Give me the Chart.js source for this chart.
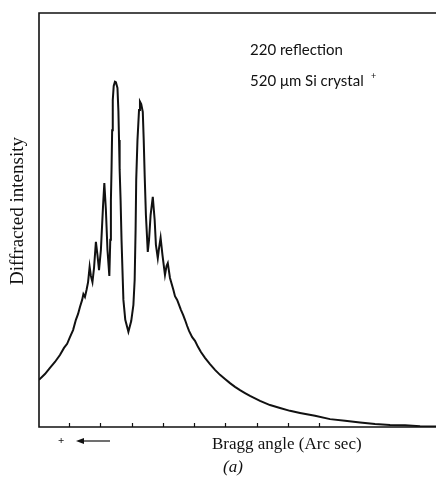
<!DOCTYPE html>
<html>
<head>
<meta charset="utf-8">
<script src="https://cdn.jsdelivr.net/npm/chart.js@4"></script>
<style>
html, body { margin: 0; padding: 0; background: #fff; }
#wrap { width: 436px; height: 486px; }
</style>
</head>
<body>
<div id="wrap"><canvas id="graph1" width="436" height="486"></canvas></div>
<script>
// Bragg angle, in tick units
var angle = [-0.96, -0.77, -0.61, -0.45, -0.29, -0.16, -0.06, 0.03, 0.13, 0.22, 0.29, 0.35, 0.42, 0.46, 0.51, 0.56, 0.61, 0.66, 0.70, 0.75,
  0.80, 0.86, 0.91, 0.96, 1.02, 1.09, 1.13, 1.18, 1.23, 1.29, 1.32, 1.34, 1.36, 1.38, 1.40, 1.43, 1.47, 1.50, 1.55, 1.58,
  1.60, 1.62, 1.65, 1.68, 1.71, 1.74, 1.80, 1.90, 1.99, 2.06, 2.10, 2.13, 2.15, 2.19, 2.24, 2.27, 2.31, 2.36, 2.39, 2.42,
  2.46, 2.52, 2.56, 2.61, 2.68, 2.74, 2.78, 2.84, 2.88, 2.93, 2.99, 3.07, 3.12, 3.16, 3.23, 3.34, 3.39, 3.46, 3.52, 3.58,
  3.65, 3.71, 3.78, 3.84, 3.94, 4.03, 4.13, 4.22, 4.35, 4.51, 4.67, 4.83, 4.99, 5.15, 5.31, 5.47, 5.63, 5.79, 6.11, 6.43,
  6.75, 7.07, 7.39, 7.87, 8.35, 8.83, 9.31, 9.79, 10.27, 10.75, 11.23, 11.74];
// diffracted intensity, 0-100
var intensity = [11.4, 12.8, 14.3, 15.7, 17.4, 19.1, 20.1, 21.7, 23.4, 25.9, 27.3, 29.0, 30.7, 32.1, 31.4, 33.1, 35.0, 38.7, 36.5, 35.0,
  38.4, 44.7, 41.6, 37.9, 42.8, 53.6, 58.9, 52.4, 42.8, 36.5, 45.2, 54.8, 62.1, 71.7, 79.0, 82.4, 83.4, 83.3, 81.9, 76.3,
  69.3, 62.1, 54.8, 45.2, 37.9, 30.7, 25.9, 23.0, 25.6, 29.5, 35.5, 47.6, 59.7, 69.3, 76.6, 78.6, 78.0, 76.1, 69.3, 60.9,
  51.2, 42.3, 45.2, 51.2, 55.6, 50.0, 44.0, 40.8, 43.2, 45.7, 41.5, 36.7, 38.9, 39.6, 36.0, 33.1, 31.6, 30.7, 29.5, 28.3,
  27.1, 25.9, 24.4, 23.2, 21.7, 20.8, 19.3, 18.1, 16.7, 15.2, 13.8, 12.6, 11.6, 10.6, 9.7, 8.9, 8.2, 7.5, 6.3, 5.3,
  4.6, 3.9, 3.4, 2.7, 1.9, 1.5, 1.1, 0.7, 0.5, 0.4, 0.2, 0.1];
var tickValues = [0, 1, 2, 3, 4, 5, 6, 7, 8];

var points = angle.map(function (a, i) { return { x: a, y: intensity[i] }; });

// frame, inward ticks and the texts
var decor = {
  id: 'decor',
  afterDraw: function (chart) {
    var c = chart.ctx, a = chart.chartArea, sx = chart.scales.x;
    c.save();
    c.strokeStyle = '#111';
    c.lineWidth = 1.6;
    c.beginPath();
    c.moveTo(436, a.top); c.lineTo(a.left, a.top); c.lineTo(a.left, a.bottom); c.lineTo(436, a.bottom);
    c.stroke();
    c.lineWidth = 1.2;
    tickValues.forEach(function (v) {
      var px = Math.round(sx.getPixelForValue(v)) + 0.5;
      c.beginPath(); c.moveTo(px, a.bottom); c.lineTo(px, a.bottom - 4); c.stroke();
    });
    c.fillStyle = '#111';
    c.textBaseline = 'middle';
    c.font = '15px Lato';
    c.fillText('220 reflection', 250, 50);
    c.fillText('520 \u03bcm Si crystal', 250, 81);
    c.font = '9px Lato';
    c.fillText('+', 371, 76);
    c.font = '17px "Liberation Serif"';
    c.fillText('Bragg angle (Arc sec)', 212, 445);
    c.font = 'italic 17px "Liberation Serif"';
    c.fillText('(a)', 223, 468);
    c.font = 'bold 11px "Liberation Serif"';
    c.fillText('+', 58, 441);
    c.lineWidth = 1.2;
    c.beginPath(); c.moveTo(82, 441); c.lineTo(110, 441); c.stroke();
    c.beginPath(); c.moveTo(76, 441); c.lineTo(84, 438); c.lineTo(84, 444); c.closePath(); c.fill();
    c.translate(18, 211);
    c.rotate(-Math.PI / 2);
    c.textAlign = 'center';
    c.font = '19px "Liberation Serif"';
    c.fillText('Diffracted intensity', 0, 0);
    c.restore();
  }
};

var config = {
  type: 'line',
  data: {
    datasets: [{
      data: points,
      borderColor: '#111',
      borderWidth: 2,
      pointRadius: 0,
      tension: 0,
      fill: false
    }]
  },
  options: {
    responsive: false,
    animation: false,
    layout: { padding: { left: 39, top: 13, right: 0, bottom: 59 } },
    plugins: { legend: { display: false }, tooltip: { enabled: false } },
    scales: {
      x: { type: 'linear', min: -0.96, max: 11.74, display: false },
      y: { min: 0, max: 100, display: false }
    }
  },
  plugins: [decor]
};

var graph1 = new Chart(document.getElementById('graph1').getContext('2d'), config);
</script>
</body>
</html>
